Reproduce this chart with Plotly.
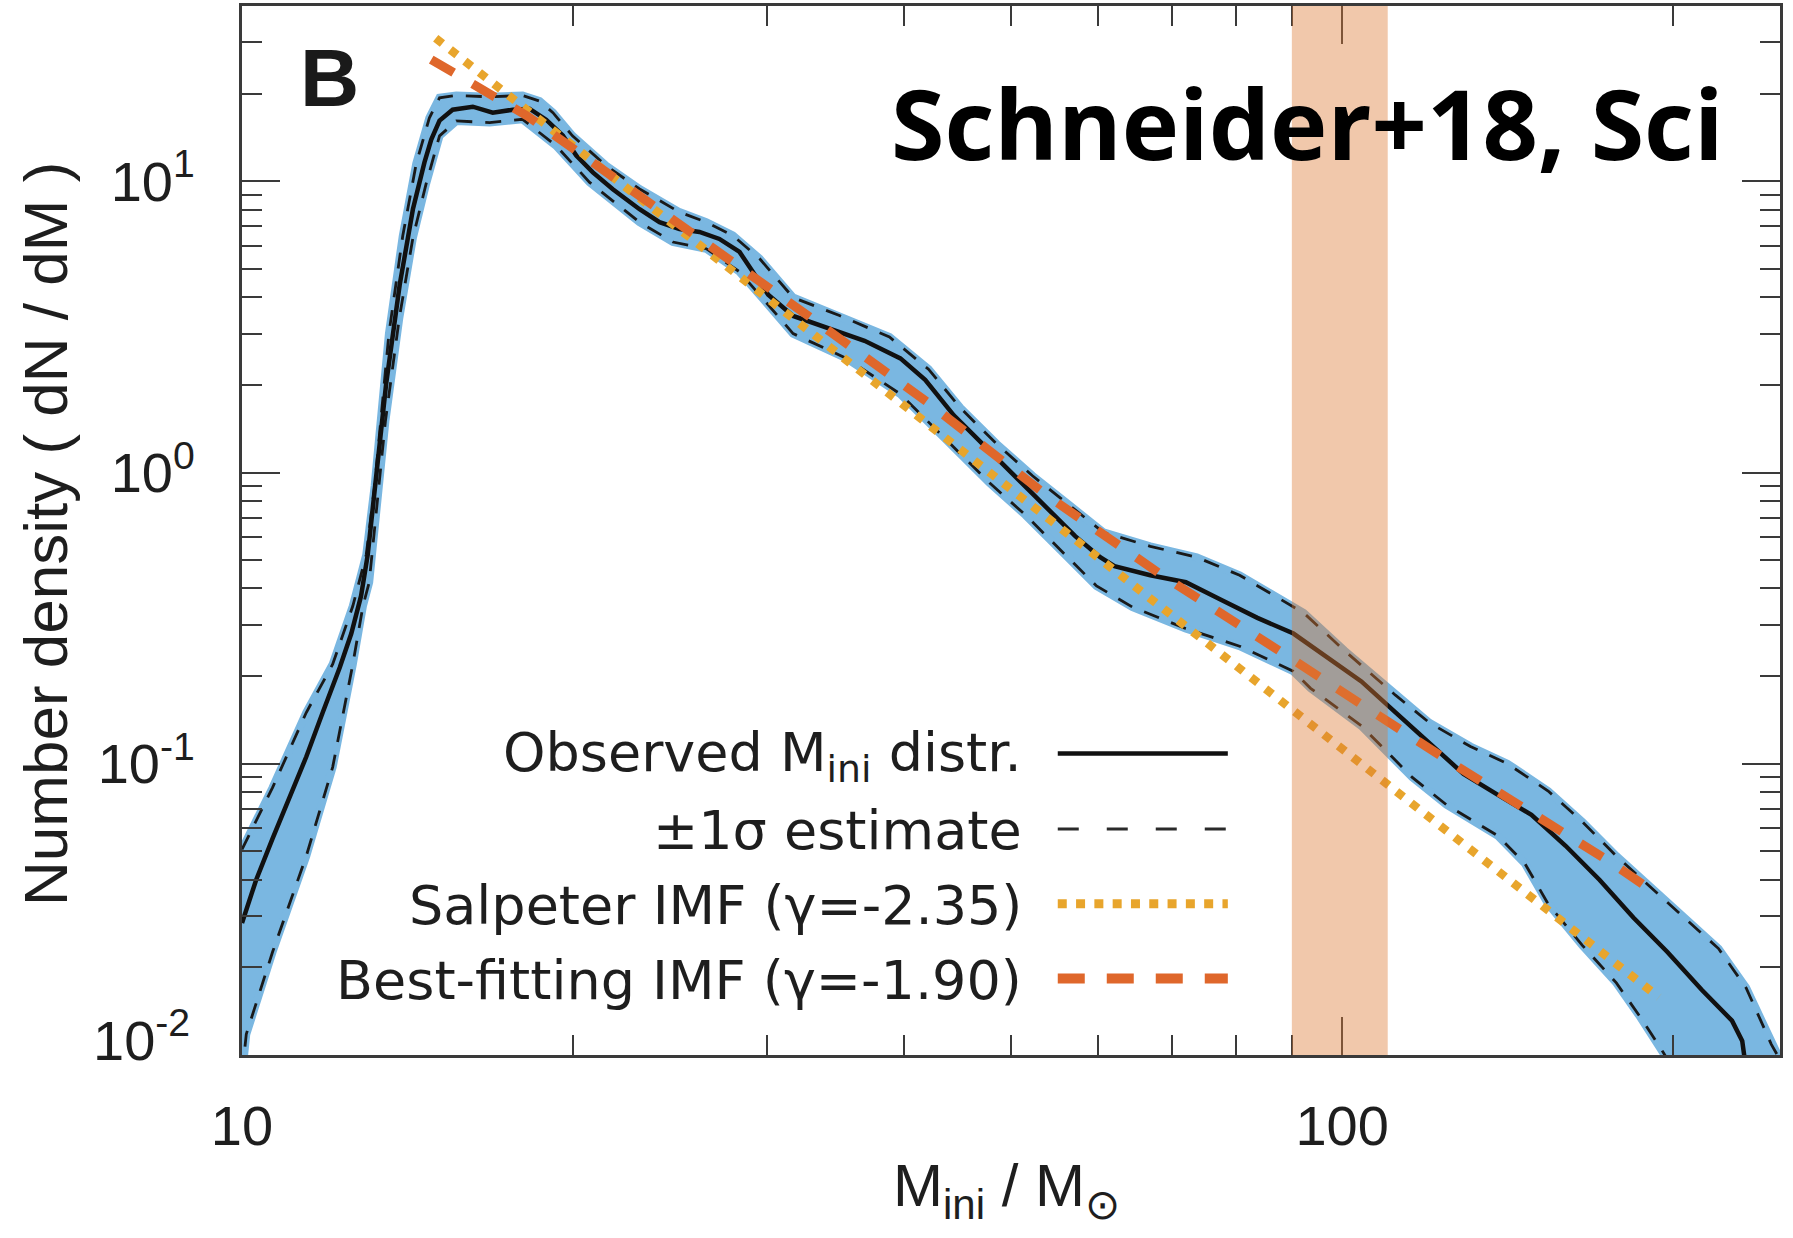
import plotly.graph_objects as go
import math

# ---------------- data ----------------
obs_mass = [10.0, 10.30, 10.66, 11.04, 11.44, 11.84, 12.27, 12.57, 12.83, 13.01,
            13.52, 13.91, 14.30, 14.65, 14.86, 15.12, 15.54, 16.21, 16.90, 17.63, 18.25, 18.90,
            19.57, 20.13, 20.84, 21.73, 22.98, 23.96, 24.98, 26.05, 27.16, 28.33, 30.08, 31.69,
            34.15, 36.80, 39.67, 41.78, 44.36, 47.80, 50.74, 53.84, 57.19, 60.26, 62.09, 66.92,
            72.10, 77.67, 83.74, 90.3, 96.97, 104.1, 111.8, 120.0, 128.9, 138.4, 148.6, 159.6,
            171.4, 184.0, 197.5, 212.2, 226.1, 231.0, 232.1]
obs_dens = [0.0284, 0.0399, 0.0553, 0.0763, 0.1057, 0.150, 0.214, 0.280, 0.377, 0.522,
            2.01, 4.41, 8.02, 11.61, 13.91, 16.16, 17.62, 18.04, 17.21, 17.62, 17.76, 16.28,
            14.36, 12.27, 10.73, 9.39, 8.02, 7.24, 6.86, 6.70, 6.34, 5.72, 4.08, 3.45,
            3.13, 2.835, 2.466, 2.081, 1.572, 1.187, 0.948, 0.758, 0.605, 0.512, 0.477, 0.444,
            0.420, 0.365, 0.317, 0.280, 0.232, 0.1918, 0.1502, 0.1178, 0.0923, 0.0784, 0.0668, 0.0523,
            0.0399, 0.0296, 0.02257, 0.01675, 0.01312, 0.01117, 0.0098]

upper_mass = [10.0, 10.66, 11.44, 12.09, 12.61, 12.97, 13.2, 13.6, 14.0, 14.4, 14.8, 15.12,
              15.66, 16.79, 17.99, 18.64, 19.17, 19.97, 21.43, 22.98, 24.98, 26.42, 27.93, 29.54,
              31.69, 34.92, 38.77, 42.07, 44.99, 48.52, 52.30, 56.35, 60.67, 66.92, 73.74, 80.68,
              86.92, 92.26, 100.5, 111.8, 120.0, 130.8, 141.3, 153.9, 165.3, 177.5, 190.5, 204.6,
              219.8, 232.9, 241.2, 245.5, 250.0]
upper_dens = [0.0508, 0.0828, 0.150, 0.2196, 0.348, 0.522, 0.90, 3.0, 6.5, 11.5, 16.5, 19.36,
              19.71, 19.51, 19.71, 18.86, 17.21, 14.33, 11.31, 9.41, 7.84, 7.24, 6.52, 5.43,
              3.99, 3.46, 2.92, 2.264, 1.664, 1.254, 0.975, 0.779, 0.623, 0.558, 0.512, 0.444,
              0.3765, 0.3295, 0.2445, 0.172, 0.1384, 0.1146, 0.1001, 0.0806, 0.0632, 0.0482, 0.0378, 0.0296,
              0.0232, 0.0170, 0.01274, 0.01088, 0.00964]

lower_mass = [10.0, 10.09, 10.66, 11.44, 12.09, 12.61, 12.88, 13.05, 13.5, 13.9, 14.3, 14.7,
              15.12, 15.66, 16.79, 17.99, 19.30, 20.70, 22.98, 24.64, 26.42, 28.33, 31.69, 35.44,
              39.67, 44.36, 47.80, 51.51, 55.50, 59.80, 64.49, 72.05, 80.68, 90.24, 93.6, 104.1,
              115.8, 124.4, 138.4, 146.5, 153.9, 165.3, 177.5, 186.6, 194.7, 197.6]
lower_dens = [0.0085, 0.01179, 0.02257, 0.0482, 0.0974, 0.2196, 0.348, 0.42, 1.5, 3.4, 6.4, 9.8,
              14.33, 16.12, 15.91, 16.33, 13.24, 9.92, 7.24, 6.19, 5.87, 4.89, 3.00, 2.465,
              1.86, 1.221, 0.922, 0.716, 0.5406, 0.408, 0.345, 0.2914, 0.2533, 0.208, 0.1816, 0.1349,
              0.0898, 0.0723, 0.0567, 0.0456, 0.033, 0.0238, 0.01768, 0.0135, 0.01057, 0.00964]

salpeter_mass = [15.0, 194.0]
salpeter_dens = [31.0, 0.0158]

bestfit_mass = [14.86, 18.21, 32.89, 42.07, 53.62, 68.59, 89.05, 123.9, 173.8, 193.4]
bestfit_dens = [26.2, 16.67, 3.40, 1.734, 0.846, 0.444, 0.235, 0.1043, 0.0469, 0.0357]

band_mass = [90.0, 110.0]

legend_labels = ["Observed M<sub>ini</sub> distr.", "±1σ estimate",
                 "Salpeter IMF (γ=-2.35)", "Best-fitting IMF (γ=-1.90)"]
y_tick_vals = [0.01, 0.1, 1, 10]
y_tick_text = ["", "10<sup>-1</sup>", "10<sup>0</sup>", "10<sup>1</sup>"]
y_bottom_label = "10<sup>-2</sup>"
x_tick_vals = [10, 100]
x_tick_text = ["10", "100"]
x_minor = [20, 30, 40, 50, 60, 70, 80, 90, 200]
y_minor = [m * 10.0 ** e for e in (-2, -1, 0) for m in range(2, 10)] + [20, 30]

# ---------------- style ----------------
BLUE = "rgb(122,183,225)"
GOLD = "#E8A52C"
ORANGE = "#DF672B"
BLACK = "#111111"
AX = "#3a3a3a"
TXT = "#1e1e1e"

fig = go.Figure()

# blue ±1σ area
fig.add_trace(go.Scatter(
    x=upper_mass + lower_mass[::-1], y=upper_dens + lower_dens[::-1],
    mode="lines", fill="toself", fillcolor=BLUE,
    line=dict(color=BLUE, width=8), hoverinfo="skip", showlegend=False))
# dashed bounds
for xs, ys in ((upper_mass, upper_dens), (lower_mass, lower_dens)):
    fig.add_trace(go.Scatter(x=xs, y=ys, mode="lines",
                             line=dict(color="#1a1a1a", width=2.8, dash="16px,13px"),
                             showlegend=False))
# observed
fig.add_trace(go.Scatter(x=obs_mass, y=obs_dens, mode="lines",
                         line=dict(color=BLACK, width=4.5), showlegend=False))
# Salpeter
fig.add_trace(go.Scatter(x=salpeter_mass, y=salpeter_dens, mode="lines",
                         line=dict(color=GOLD, width=8.5, dash="8.5px,10px"), showlegend=False))
# best fit
fig.add_trace(go.Scatter(x=bestfit_mass, y=bestfit_dens, mode="lines",
                         line=dict(color=ORANGE, width=9, dash="26px,22px"), showlegend=False))

shapes = []
# highlighted mass band (above traces)
shapes.append(dict(type="rect", xref="x", yref="paper", x0=band_mass[0], x1=band_mass[1],
                   y0=0, y1=1, fillcolor="rgba(220,122,50,0.41)", line=dict(width=0),
                   layer="above"))

L = 242.5
W = 1537.5
T = 3.0
H = 1052.0


def px_x(p):
    return (p - L) / W


def px_y(p):
    return 1 - (p - T) / H


rows_y = [752.7, 828.3, 903.3, 978.3]
samples = [
    dict(color=BLACK, width=4.5, dash="solid"),
    dict(color="#2a2a2a", width=3, dash="21px,28px"),
    dict(color=GOLD, width=9, dash="9px,9.3px"),
    dict(color=ORANGE, width=10, dash="27px,22px"),
]
annotations = []
for lab, yy, st in zip(legend_labels, rows_y, samples):
    annotations.append(dict(x=px_x(1024), y=px_y(yy + 2), xref="paper", yref="paper",
                            text=lab, showarrow=False, xanchor="right", yanchor="middle",
                            font=dict(family="DejaVu Sans", size=54, color=TXT)))
    shapes.append(dict(type="line", xref="paper", yref="paper",
                       x0=px_x(1058), x1=px_x(1228), y0=px_y(yy), y1=px_y(yy),
                       line=st, layer="above"))

# bottom-left tick label, partly hidden below the axis (as in the reference)
annotations.append(dict(x=px_x(193), y=px_y(1036), xref="paper", yref="paper",
                        text=y_bottom_label, showarrow=False, xanchor="right", yanchor="middle",
                        font=dict(family="Liberation Sans", size=56, color=TXT)))
shapes.append(dict(type="rect", xref="paper", yref="paper",
                   x0=px_x(80), x1=px_x(238), y0=px_y(1057), y1=px_y(1095),
                   fillcolor="white", line=dict(width=0), layer="above"))

# panel letter and title
annotations.append(dict(x=px_x(330), y=px_y(75), xref="paper", yref="paper", text="<b>B</b>",
                        showarrow=False, xanchor="center", yanchor="middle",
                        font=dict(family="Liberation Sans", size=82, color="#1a1a1a")))
annotations.append(dict(x=px_x(1726), y=px_y(119), xref="paper", yref="paper",
                        text="<b>Schneider+18, Sci</b>", showarrow=False,
                        xanchor="right", yanchor="middle",
                        font=dict(family="Open Sans", size=97, color="#000000")))
# axis titles
annotations.append(dict(x=px_x(46), y=px_y(532), xref="paper", yref="paper",
                        text="Number density ( dN / dM )", textangle=-90, showarrow=False,
                        xanchor="center", yanchor="middle",
                        font=dict(family="Liberation Sans", size=62, color=TXT)))
annotations.append(dict(x=px_x(1007), y=px_y(1190), xref="paper", yref="paper",
                        text="M<sub>ini</sub> / M<sub>⊙</sub>", showarrow=False,
                        xanchor="center", yanchor="middle",
                        font=dict(family="Liberation Sans", size=60, color=TXT)))

axis_common = dict(showgrid=False, zeroline=False, showline=True, linecolor=AX, linewidth=3,
                   mirror="allticks", ticks="inside", ticklen=38, tickwidth=2, tickcolor=AX,
                   tickfont=dict(family="Liberation Sans", size=56, color=TXT))

fig.update_layout(
    width=1793, height=1238,
    margin=dict(l=242, r=13, t=3, b=183, pad=0),
    paper_bgcolor="white", plot_bgcolor="white",
    showlegend=False,
    xaxis=dict(type="log", range=[1, math.log10(250)], tickmode="array",
               tickvals=x_tick_vals, ticktext=x_tick_text, ticklabelstandoff=20,
               minor=dict(tickmode="array", tickvals=x_minor, ticks="inside", ticklen=20,
                          tickwidth=2, tickcolor=AX, showgrid=False),
               **axis_common),
    yaxis=dict(type="log", range=[-2, math.log10(40)], tickmode="array",
               tickvals=y_tick_vals, ticktext=y_tick_text, ticklabelstandoff=33,
               minor=dict(tickmode="array", tickvals=y_minor, ticks="inside", ticklen=20,
                          tickwidth=2, tickcolor=AX, showgrid=False),
               **axis_common),
    shapes=shapes,
    annotations=annotations,
)

fig.write_html("out.html", config={"displayModeBar": False},
               post_script="document.body.style.margin='0px';")
